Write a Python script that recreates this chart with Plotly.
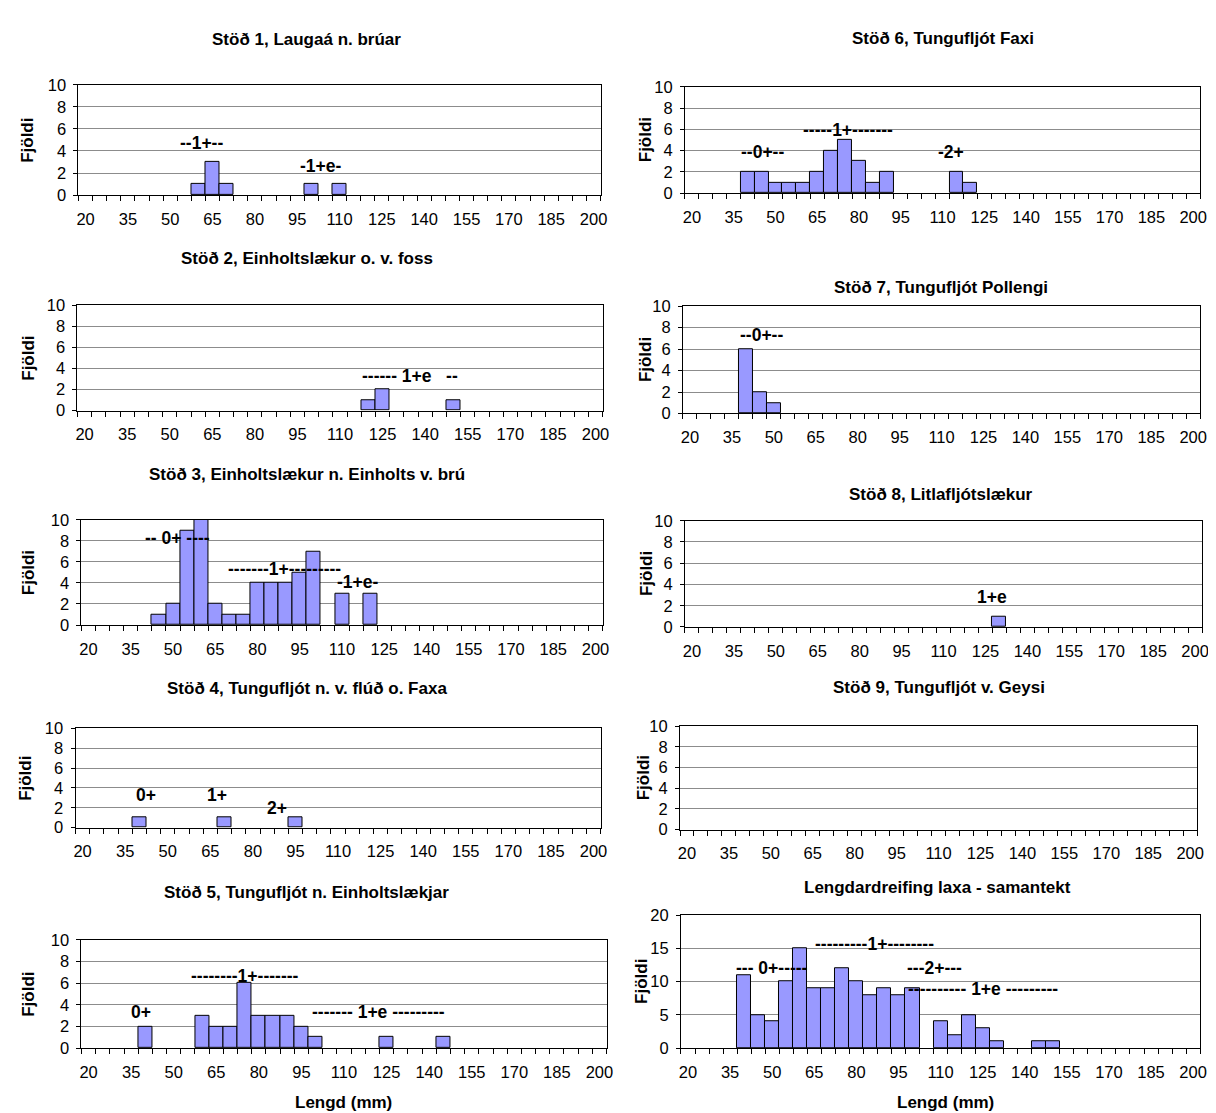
import plotly.graph_objects as go

W, H = 1216, 1113
FONT = "Liberation Sans, Arial, sans-serif"

# ---------------- data ----------------
tick_lengths = [20, 35, 50, 65, 80, 95, 110, 125, 140, 155, 170, 185, 200]
tick_labels = [str(v) for v in tick_lengths]

st1_len = [60, 65, 70, 100, 110]
st1_n = [1, 3, 1, 1, 1]
st2_len = [120, 125, 150]
st2_n = [1, 2, 1]
st3_len = [45, 50, 55, 60, 65, 70, 75, 80, 85, 90, 95, 100, 110, 120]
st3_n = [1, 2, 9, 10, 2, 1, 1, 4, 4, 4, 5, 7, 3, 3]
st4_len = [40, 70, 95]
st4_n = [1, 1, 1]
st5_len = [40, 60, 65, 70, 75, 80, 85, 90, 95, 100, 125, 145]
st5_n = [2, 3, 2, 2, 6, 3, 3, 3, 2, 1, 1, 1]
st6_len = [40, 45, 50, 55, 60, 65, 70, 75, 80, 85, 90, 115, 120]
st6_n = [2, 2, 1, 1, 1, 2, 4, 5, 3, 1, 2, 2, 1]
st7_len = [40, 45, 50]
st7_n = [6, 2, 1]
st8_len = [130]
st8_n = [1]
st9_len = []
st9_n = []
sum_len = [40, 45, 50, 55, 60, 65, 70, 75, 80, 85, 90, 95, 100, 110, 115, 120, 125, 130, 145, 150]
sum_n = [11, 5, 4, 10, 15, 9, 9, 12, 10, 8, 9, 8, 9, 4, 2, 5, 3, 1, 1, 1]

titles = [
    "Stöð 1, Laugaá n. brúar",
    "Stöð 2, Einholtslækur o. v. foss",
    "Stöð 3, Einholtslækur n. Einholts v. brú",
    "Stöð 4, Tungufljót n. v. flúð o. Faxa",
    "Stöð 5, Tungufljót n. Einholtslækjar",
    "Stöð 6, Tungufljót Faxi",
    "Stöð 7, Tungufljót Pollengi",
    "Stöð 8, Litlafljótslækur",
    "Stöð 9, Tungufljót v. Geysi",
    "Lengdardreifing laxa - samantekt",
]
series = [
    (st1_len, st1_n), (st2_len, st2_n), (st3_len, st3_n), (st4_len, st4_n), (st5_len, st5_n),
    (st6_len, st6_n), (st7_len, st7_n), (st8_len, st8_n), (st9_len, st9_n), (sum_len, sum_n),
]
# age-class labels: (text, x length, y count)
class_labels = [
    [("--1+--", 61, 4.7), ("-1+e-", 103.5, 2.6)],
    [("------ 1+e   --", 134.6, 3.3)],
    [("-- 0+ ----", 51.7, 8.3), ("-------1+---------", 89.5, 5.3), ("-1+e-", 115.7, 4.1)],
    [("0+", 42.5, 3.3), ("1+", 67.5, 3.3), ("2+", 88.5, 2.0)],
    [("0+", 38.3, 3.3), ("--------1+-------", 75, 6.7), ("------- 1+e ---------", 122, 3.3)],
    [("--0+--", 45.5, 3.9), ("-----1+-------", 76, 5.9), ("-2+", 113, 3.9)],
    [("--0+--", 45.6, 7.3)],
    [("1+e", 127.5, 2.8)],
    [],
    [("--- 0+-----", 49.8, 12.0), ("---------1+--------", 86.5, 15.6),
     ("---2+---", 108, 12.0), ("---------- 1+e ---------", 125, 8.85)],
]

# ---------------- layout (pixel boxes) ----------------
# (x0, x1, ytop, ybottom, title_y, title_x, ylabel_x)
boxes = [
    (69, 595, 69, 181, 23, 299, 18),
    (68, 597, 293, 400, 245, 299, 19),
    (72, 597, 511, 618, 465, 299, 19),
    (66, 595, 723, 824, 683, 299, 16),
    (72, 601, 938, 1048, 890, 299, 19),
    (680, 1199, 71, 179, 22, 940, 641),
    (678, 1199, 294, 403, 275, 938, 641),
    (680, 1201, 512, 620, 485, 938, 642),
    (675, 1196, 721, 826, 682, 936, 639),
    (676, 1199, 913, 1048, 885, 934, 636),
]

fig = go.Figure()
annotations = []
minor_vals = [17.5 + 5 * k for k in range(38)]

for i, ((xs, ys), box, title, labels) in enumerate(zip(series, boxes, titles, class_labels)):
    n = i + 1
    xa = "x" if n == 1 else f"x{n}"
    ya = "y" if n == 1 else f"y{n}"
    x0, x1, yt, yb, ty, tx, ylx = box
    fig.add_trace(go.Bar(
        x=xs, y=ys, width=5, xaxis=xa, yaxis=ya,
        marker=dict(color="#9999FF", line=dict(color="black", width=1)),
        showlegend=False, hoverinfo="x+y",
    ))
    is_sum = (i == 9)
    fig.layout[f"xaxis{'' if n == 1 else n}"] = dict(
        domain=[x0 / W, x1 / W], anchor=ya, range=[17.5, 202.5],
        tickmode="array", tickvals=tick_lengths, ticktext=tick_labels,
        ticks="", showgrid=False, zeroline=False, ticklabelstandoff=9,
        showline=True, linecolor="black", linewidth=1, mirror=True,
        tickfont=dict(family=FONT, size=16.5, color="black"),
        minor=dict(tickmode="array", tickvals=minor_vals, ticks="outside",
                   ticklen=5, tickcolor="black", tickwidth=1, showgrid=False),
        fixedrange=True,
    )
    fig.layout[f"yaxis{'' if n == 1 else n}"] = dict(
        domain=[1 - yb / H, 1 - yt / H], anchor=xa,
        range=[0, 20 if is_sum else 10], dtick=5 if is_sum else 2, tick0=0,
        ticks="outside", ticklen=4, tickcolor="black", ticklabelstandoff=4,
        showgrid=True, gridcolor="#8c8c8c", gridwidth=1, zeroline=False,
        showline=True, linecolor="black", linewidth=1, mirror=True,
        tickfont=dict(family=FONT, size=16.5, color="black"),
        fixedrange=True,
    )
    annotations.append(dict(
        text=f"<b>{title}</b>", x=tx / W, y=1 - ty / H, xref="paper", yref="paper",
        showarrow=False, xanchor="center", yanchor="middle",
        font=dict(family=FONT, size=17, color="black"),
    ))
    annotations.append(dict(
        text="<b>Fjöldi</b>", x=ylx / W, y=1 - (yt + yb) / 2 / H, xref="paper", yref="paper",
        showarrow=False, xanchor="center", yanchor="middle", textangle=-90,
        font=dict(family=FONT, size=17, color="black"),
    ))
    for (txt, lx, ly) in labels:
        annotations.append(dict(
            text=f"<b>{txt}</b>", x=lx, y=ly, xref=xa, yref=ya,
            showarrow=False, xanchor="center", yanchor="middle",
            font=dict(family=FONT, size=17.5, color="black"),
        ))

for cx in (336, 942):
    annotations.append(dict(
        text="<b>Lengd (mm)</b>", x=cx / W, y=1 - 1103 / H, xref="paper", yref="paper",
        showarrow=False, xanchor="center", yanchor="middle",
        font=dict(family=FONT, size=17, color="black"),
    ))

fig.update_layout(
    width=W, height=H, margin=dict(l=0, r=0, t=0, b=0),
    paper_bgcolor="white", plot_bgcolor="white",
    annotations=annotations, bargap=0,
    font=dict(family=FONT, color="black"),
)

fig.write_html("out.html")
